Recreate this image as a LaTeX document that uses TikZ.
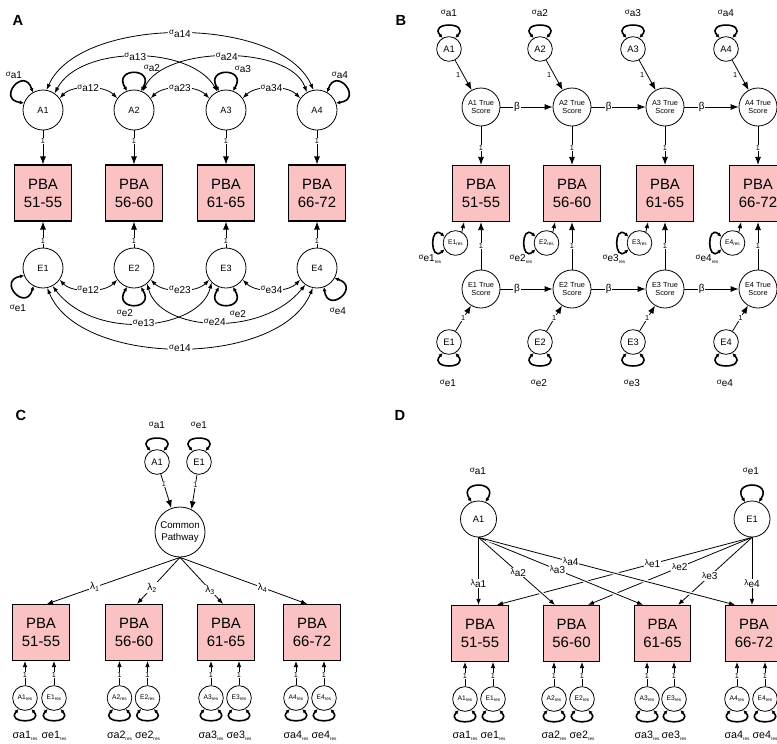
\documentclass[tikz,border=0pt]{standalone}
\usepackage{fontspec}
\setmainfont{Liberation Sans}
\usetikzlibrary{arrows.meta,calc}
\definecolor{pbapink}{RGB}{250,194,194}
\newcommand{\sg}[1]{\raisebox{0.45ex}{\fontsize{6}{6}\selectfont σ}#1}
\newcommand{\lmd}[1]{\raisebox{0.3ex}{\fontsize{6.2}{6}\selectfont λ}#1}
\newcommand{\rsx}{\raisebox{-0.3ex}{\fontsize{3.5}{4}\selectfont res}}
\newcommand{\rs}[1]{#1\rsx}
% loop: node, direction, half spread, control length
\newcommand{\lp}[4]{%
  \pgfmathtruncatemacro\lpa{#2+#3}\pgfmathtruncatemacro\lpb{#2-#3}%
  \pgfmathtruncatemacro\lpc{#2+#3+12}\pgfmathtruncatemacro\lpd{#2-#3-12}%
  \draw[loopst] (#1.\lpa) .. controls +(\lpc:#4) and +(\lpd:#4) .. (#1.\lpb);}
\begin{document}
\begin{tikzpicture}[x=0.75pt,y=0.75pt,
  plab/.style={font=\bfseries\fontsize{11}{12}\selectfont},
  latA/.style={circle,draw,line width=0.6pt,minimum size=30pt,inner sep=0pt,font=\fontsize{6.8}{7}\selectfont},
  latS/.style={circle,draw,line width=0.6pt,minimum size=18.5pt,inner sep=0pt,font=\fontsize{7}{7}\selectfont},
  latD/.style={circle,draw,line width=0.6pt,minimum size=27pt,inner sep=0pt,font=\fontsize{7}{7}\selectfont},
  latR/.style={circle,draw,line width=0.6pt,minimum size=18.5pt,inner sep=0pt,font=\fontsize{5}{5}\selectfont},
  tsc/.style={circle,draw,line width=0.6pt,minimum size=28.5pt,inner sep=0pt,align=center,font=\fontsize{5.5}{6}\selectfont},
  cpst/.style={circle,draw,line width=0.6pt,minimum size=37.5pt,inner sep=0pt,align=center,font=\fontsize{7.3}{8.5}\selectfont},
  obs/.style={draw,line width=0.9pt,fill=pbapink,minimum width=42.5pt,minimum height=42pt,inner sep=0pt,align=center,font=\fontsize{11.2}{13.5}\selectfont},
  arr/.style={line width=0.6pt,-{Latex[length=6pt,width=4.5pt]}},
  arrs/.style={line width=0.6pt,-{Latex[length=4.5pt,width=3.5pt]}},
  darr/.style={line width=0.6pt,{Latex[length=4.5pt,width=3.2pt]}-{Latex[length=4.5pt,width=3.2pt]}},
  loopst/.style={line width=1.2pt,{Latex[length=3pt,width=3pt]}-{Latex[length=3pt,width=3pt]}},
  halo/.style={preaction={draw=white,line width=2.6pt,arrows=-,shorten <=6pt,shorten >=8pt}},
  one/.style={fill=white,inner sep=0.4pt,font=\fontsize{5.5}{6}\selectfont},
  lab/.style={fill=white,inner sep=0.6pt,font=\fontsize{7.5}{8}\selectfont},
  txt/.style={inner sep=0pt,font=\fontsize{7.5}{8}\selectfont},
  txtb/.style={inner sep=0pt,font=\fontsize{8}{8}\selectfont},
]
\useasboundingbox (0,0) rectangle (777,-743);

% ================= Panel A =================
\node[plab] (labA) at (18,-20) {A};
\foreach \i/\x/\rng in {1/43/51-55,2/134/56-60,3/226/61-65,4/317/66-72}{
  \node[latA] (aA\i) at (\x,-110) {A\i};
  \node[obs]  (pA\i) at (\x,-193) {PBA\\\rng};
  \node[latA] (eA\i) at (\x,-268) {E\i};
  \draw[arr] (aA\i) -- node[one,pos=0.3]{1} (pA\i);
  \draw[arr] (eA\i) -- node[one,pos=0.27]{1} (pA\i);
}
\draw[darr] (aA1.35) .. controls (72,-85) and (104,-85) .. node[lab]{\sg{a12}} (aA2.145);
\draw[darr] (aA2.35) .. controls (164,-85) and (196,-85) .. node[lab]{\sg{a23}} (aA3.145);
\draw[darr] (aA3.35) .. controls (256,-85) and (287,-85) .. node[lab]{\sg{a34}} (aA4.145);
\draw[darr] (aA1.55) .. controls (80,-45) and (190,-45) .. node[lab]{\sg{a13}} (aA3.115);
\draw[darr] (aA2.65) .. controls (165,-45) and (290,-45) .. node[lab]{\sg{a24}} (aA4.120);
\draw[darr] (aA1.80) .. controls (80,-15) and (280,-15) .. node[lab]{\sg{a14}} (aA4.100);
\draw[darr] (eA1.-35) .. controls (72,-293) and (104,-293) .. node[lab]{\sg{e12}} (eA2.-145);
\draw[darr] (eA2.-35) .. controls (164,-293) and (196,-293) .. node[lab]{\sg{e23}} (eA3.-145);
\draw[darr] (eA3.-35) .. controls (256,-293) and (287,-293) .. node[lab]{\sg{e34}} (eA4.-145);
\draw[darr] (eA1.-62) .. controls (95,-342) and (200,-330) .. node[lab]{\sg{e13}} (eA3.-135);
\draw[darr] (eA2.-50) .. controls (160,-332) and (262,-338) .. node[lab]{\sg{e24}} (eA4.-125);
\draw[darr] (eA1.-78) .. controls (80,-368) and (280,-368) .. node[lab]{\sg{e14}} (eA4.-102);
\lp{aA1}{140}{20}{28} \lp{aA2}{90}{20}{28} \lp{aA3}{90}{20}{28} \lp{aA4}{40}{20}{28}
\lp{eA1}{222}{20}{28} \lp{eA2}{270}{20}{28} \lp{eA3}{270}{20}{28} \lp{eA4}{310}{20}{28}
\node[txt] (sa1A) at (14,-75) {\sg{a1}};
\node[txt] (sa2A) at (152,-68) {\sg{a2}};
\node[txt] (sa3A) at (243,-69) {\sg{a3}};
\node[txt] (sa4A) at (340,-75) {\sg{a4}};
\node[txt] (se1A) at (18,-308) {\sg{e1}};
\node[txt] (se2A) at (125,-313) {\sg{e2}};
\node[txt] (se3A) at (238,-314) {\sg{e2}};
\node[txt] (se4A) at (338,-311) {\sg{e4}};

% ================= Panel B =================
\node[plab] (labB) at (401,-20) {B};
\foreach \i/\x/\rng in {1/481/51-55,2/572/56-60,3/665/61-65,4/758/66-72}{
  \node[latS] (aB\i) at ({\x-32},-49) {A\i};
  \node[tsc] (taB\i) at (\x,-107) {A\i{} True\\Score};
  \node[obs] (pB\i) at (\x,-193.5) {PBA\\\rng};
  \node[latR] (rB\i) at ({\x-25.5},-243) {\rs{E\i}};
  \node[tsc] (teB\i) at (\x,-289) {E\i{} True\\Score};
  \node[latS] (eB\i) at ({\x-32},-342) {E\i};
  \draw[arr] (aB\i) -- node[one,pos=0.5,xshift=-4pt,fill=none]{1} (taB\i);
  \draw[arr] (taB\i) -- node[one,pos=0.55]{1} (pB\i);
  \draw[arr] (teB\i) -- node[one,pos=0.5]{1} (pB\i);
  \draw[arr] (eB\i) -- node[one,pos=0.5]{1} (teB\i);
  \draw[arrs] (rB\i.60) -- ($(pB\i.south west)+(12,0)$);
  \lp{aB\i}{90}{30}{22}
  \lp{rB\i}{180}{30}{20}
  \lp{eB\i}{270}{30}{22}
  \node[txt] at ({\x-32},-13) {\sg{a\i}};
  \node[txt] at ({\x-51},-259) {\sg{\rs{e\i}}};
  \node[txt] at ({\x-33},-383) {\sg{e\i}};
}
\foreach \i/\j in {1/2,2/3,3/4}{
  \draw[arr] (taB\i) -- node[lab,pos=0.32]{β} (taB\j);
  \draw[arr] (teB\i) -- node[lab,pos=0.32]{β} (teB\j);
}

% ================= Panel C =================
\node[plab] (labC) at (21,-415) {C};
\node[latS] (aC) at (157,-462) {A1};
\node[latS] (eC) at (199,-462) {E1};
\node[cpst] (cp) at (180,-532) {Common\\Pathway};
\lp{aC}{90}{30}{22} \lp{eC}{90}{30}{22}
\node[txt] (saC) at (157,-425) {\sg{a1}};
\node[txt] (seC) at (199,-425) {\sg{e1}};
\draw[arr] (aC) -- node[one,pos=0.3]{1} (cp.110);
\draw[arr] (eC) -- node[one,pos=0.3]{1} (cp.63);
\foreach \i/\x/\rng/\dx/\ps in {1/41/51-55/6/0.64,2/134/56-60/3/0.65,3/226/61-65/-3/0.7,4/312/66-72/-5/0.65}{
  \node[obs] (pC\i) at (\x,-632.5) {PBA\\\rng};
  \draw[arrs] (cp.south) -- node[lab,pos=\ps]{λ\textsubscript{\i}} ($(pC\i.north)+(\dx,0)$);
}
\foreach \i/\xa/\xe in {1/25/54,2/119.5/147.5,3/211/239,4/296/324}{
  \node[latR] (raC\i) at (\xa,-698) {\rs{A\i}};
  \node[latR] (reC\i) at (\xe,-698) {\rs{E\i}};
  \draw[arrs] (raC\i) -- node[one,pos=0.42]{1} (raC\i |- pC\i.south);
  \draw[arrs] (reC\i) -- node[one,pos=0.42]{1} (reC\i |- pC\i.south);
  \lp{raC\i}{270}{30}{20} \lp{reC\i}{270}{30}{20}
  \node[txtb] at (\xa,-736) {σa\i\rsx};
  \node[txtb] at (\xe,-736) {σe\i\rsx};
}

% ================= Panel D =================
\node[plab] (labD) at (400,-415) {D};
\node[latD] (aD) at (478.5,-519) {A1};
\node[latD] (eD) at (752,-519) {E1};
\lp{aD}{90}{22}{26} \lp{eD}{90}{22}{26}
\node[txt] (saD) at (478,-471) {\sg{a1}};
\node[txt] (seD) at (751,-471) {\sg{e1}};
\foreach \i/\x/\rng in {1/480/51-55,2/571.5/56-60,3/662.5/61-65,4/754/66-72}{
  \node[obs] (pD\i) at (\x,-633.5) {PBA\\\rng};
}
\draw[arrs] (eD.south) -- node[lab,pos=0.39]{\lmd{e1}} ($(pD1.north)+(17,0)$);
\draw[arrs] (eD.south) -- node[lab,pos=0.44]{\lmd{e2}} ($(pD2.north)+(16.5,0)$);
\draw[arrs] (eD.south) -- node[lab,pos=0.57]{\lmd{e3}} ($(pD3.north)+(15.5,0)$);
\draw[arrs] (eD.south) -- node[lab,pos=0.68]{\lmd{e4}} (pD4.north -| eD.south);
\draw[arrs,halo] (aD.south) -- node[lab,pos=0.68]{\lmd{a1}} (pD1.north -| aD.south);
\draw[arrs,halo] (aD.south) -- node[lab,pos=0.52]{\lmd{a2}} ($(pD2.north)+(-16.5,0)$);
\draw[arrs,halo] (aD.south) -- node[lab,pos=0.48]{\lmd{a3}} ($(pD3.north)+(-19.5,0)$);
\draw[arrs,halo] (aD.south) -- node[lab,pos=0.36]{\lmd{a4}} ($(pD4.north)+(-19,0)$);
\foreach \i/\xa/\xe in {1/465/493,2/554/582,3/647/674,4/737/765}{
  \node[latR] (raD\i) at (\xa,-699) {\rs{A\i}};
  \node[latR] (reD\i) at (\xe,-699) {\rs{E\i}};
  \draw[arrs] (raD\i) -- node[one,pos=0.42]{1} (raD\i |- pD\i.south);
  \draw[arrs] (reD\i) -- node[one,pos=0.42]{1} (reD\i |- pD\i.south);
  \lp{raD\i}{270}{30}{20} \lp{reD\i}{270}{30}{20}
  \node[txtb] at (\xa,-736) {σa\i\rsx};
  \node[txtb] at (\xe,-736) {σe\i\rsx};
}
\end{tikzpicture}
\end{document}
